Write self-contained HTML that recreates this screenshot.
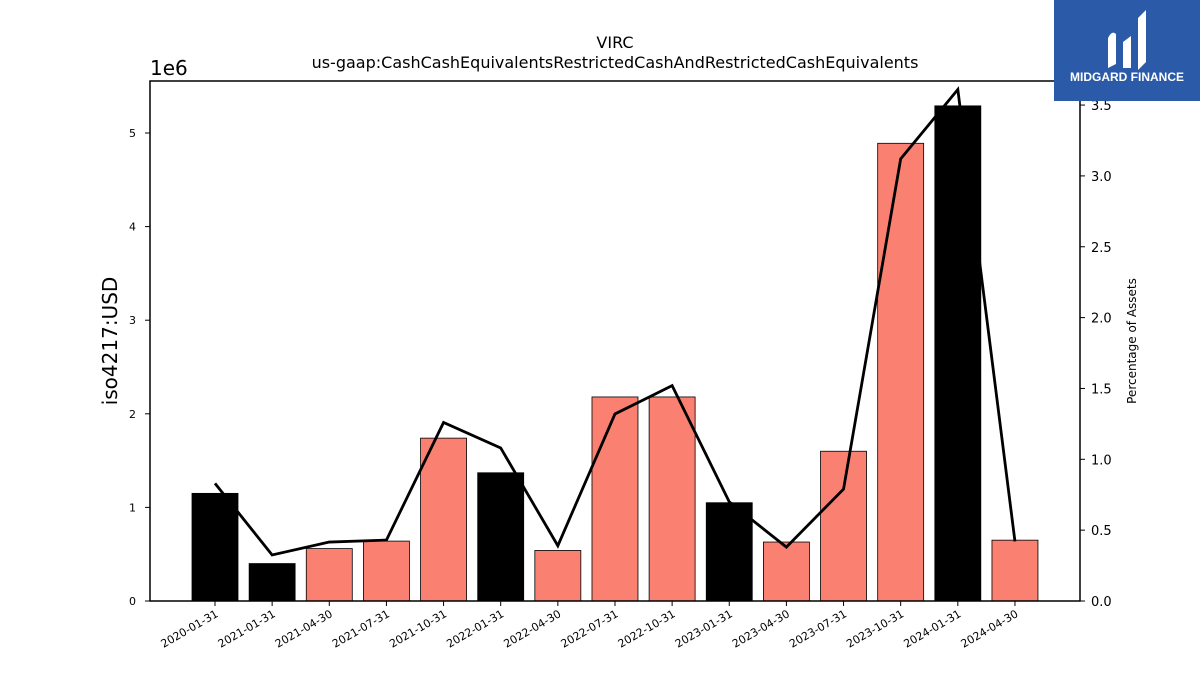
<!DOCTYPE html>
<html><head><meta charset="utf-8"><style>
body{margin:0;background:#fff;font-family:"Liberation Sans","DejaVu Sans",sans-serif}
</style></head><body>
<svg id="chart" width="1200" height="675" xmlns="http://www.w3.org/2000/svg" font-family="DejaVu Sans, Liberation Sans, sans-serif">
<rect width="1200" height="675" fill="#fff"/>
<text x="615" y="48" text-anchor="middle" font-size="16">VIRC</text>
<text x="615" y="68" text-anchor="middle" font-size="16">us-gaap:CashCashEquivalentsRestrictedCashAndRestrictedCashEquivalents</text>
<text x="150" y="75" font-size="20">1e6</text>
<text transform="translate(117,341) rotate(-90)" text-anchor="middle" font-size="20">iso4217:USD</text>
<text transform="translate(1136,341) rotate(-90)" text-anchor="middle" font-size="12">Percentage of Assets</text>
<g id="bars"></g><g id="line"></g><g id="axes"></g>
<rect x="150" y="81" width="930" height="520" fill="none" stroke="#000" stroke-width="1.5"/>
<g>
<rect x="1054" y="0" width="146" height="101" fill="#2b5aa8"/>
<path d="M1108 68 L1108 38 Q1112 30 1116 34 L1116 64 Z M1123 68 L1123 42 L1131 36 L1131 68 Z M1138 70 L1138 18 L1146 10 L1146 62 Z" fill="#fff"/>
<text x="1127" y="81" text-anchor="middle" font-size="12" font-weight="bold" fill="#fff" font-family="Liberation Sans, sans-serif">MIDGARD FINANCE</text>
</g>
</svg>
<script>
const categories=["2020-01-31","2021-01-31","2021-04-30","2021-07-31","2021-10-31","2022-01-31","2022-04-30","2022-07-31","2022-10-31","2023-01-31","2023-04-30","2023-07-31","2023-10-31","2024-01-31","2024-04-30"];
const cashValues=[1.15,0.40,0.56,0.64,1.74,1.37,0.54,2.18,2.18,1.05,0.63,1.60,4.89,5.29,0.65];
const pctValues=[0.83,0.325,0.416,0.43,1.26,1.08,0.39,1.32,1.52,0.70,0.38,0.79,3.12,3.61,0.42];
const leftTicks=[0,1,2,3,4,5];
const rightTicks=["0.0","0.5","1.0","1.5","2.0","2.5","3.0","3.5"];
const NS="http://www.w3.org/2000/svg";
const x=i=>215+i*57.14;
const yL=v=>601-v*93.6;
const yR=v=>601-v*141.7;
function mk(t,a,p){const e=document.createElementNS(NS,t);for(const k in a)e.setAttribute(k,a[k]);p.appendChild(e);return e;}
const bars=document.getElementById('bars'),line=document.getElementById('line'),axes=document.getElementById('axes');
categories.forEach((c,i)=>{
 const black=c.endsWith('01-31');
 const r=mk('rect',{x:x(i)-23,y:yL(cashValues[i]),width:46,height:601-yL(cashValues[i]),fill:black?'#000':'#fa8072',stroke:'#000','stroke-width':0.8},bars);
 
 
 const tk=mk('line',{x1:x(i),x2:x(i),y1:601,y2:606,stroke:'#000'},axes);
 
 
 const t=mk('text',{transform:`translate(${x(i)+4},${616}) rotate(-30)`,'text-anchor':'end','font-size':11},axes);
 t.textContent=c;
 
 
});
const pl=mk('polyline',{points:pctValues.map((v,i)=>x(i)+','+yR(v)).join(' '),fill:'none',stroke:'#000','stroke-width':2.8},line);


leftTicks.forEach(v=>{
 const l=mk('line',{x1:145,x2:150,y1:yL(v),y2:yL(v),stroke:'#000'},axes);
 
 
 const t=mk('text',{x:136,y:yL(v)+4,'text-anchor':'end','font-size':11},axes);
 t.textContent=v;
 
 
});
rightTicks.forEach(v=>{
 const l=mk('line',{x1:1080,x2:1085,y1:yR(+v),y2:yR(+v),stroke:'#000'},axes);
 
 
 const t=mk('text',{x:1091,y:yR(+v)+5,'font-size':13},axes);
 t.textContent=v;
 
 
});
</script>
</body></html>
